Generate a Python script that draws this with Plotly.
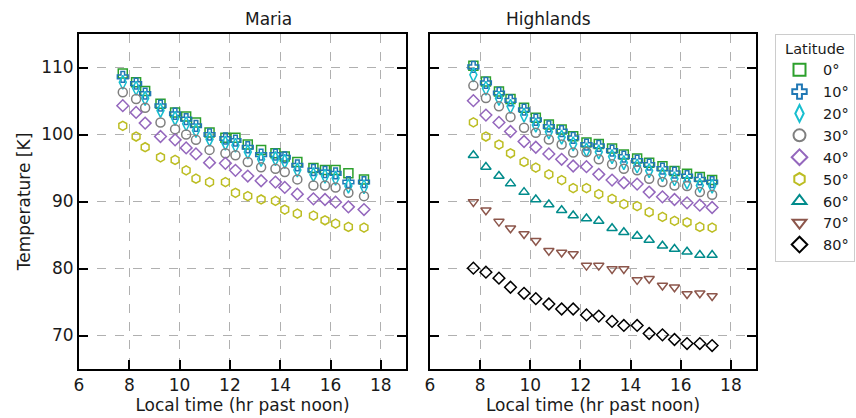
import plotly.graph_objects as go

# ---- data ----
maria_time = [7.74, 8.27, 8.63, 9.24, 9.82, 10.26, 10.65, 11.19, 11.82, 12.22,
              12.71, 13.24, 13.81, 14.18, 14.68, 15.32, 15.78, 16.2, 16.71, 17.33]
maria_0 = [109.1, 107.8, 106.5, 104.6, 103.3, 102.7, 101.8, 100.3, 99.5, 99.5,
           98.5, 97.7, 97.2, 96.7, 95.9, 95.0, 94.7, 94.7, 94.2, 93.3]
maria_10 = [108.6, 107.6, 106.1, 104.3, 103.1, 102.3, 101.3, 100.0, 99.4, 99.1,
            98.1, 97.0, 97.0, 96.6, 95.4, 94.7, 94.4, 94.2, 92.9, 92.9]
maria_20 = [107.8, 106.9, 105.4, 103.6, 102.4, 101.6, 100.6, 99.3, 98.7, 98.4,
            97.4, 96.3, 96.4, 96.0, 94.7, 94.0, 93.8, 93.5, 92.3, 92.2]
maria_30 = [106.3, 105.3, 104.0, 101.8, 100.8, 100.0, 99.2, 97.7, 97.2, 96.9,
            95.9, 95.1, 94.9, 94.4, 93.3, 92.4, 92.4, 92.1, 91.3, 90.8]
maria_40 = [104.3, 103.3, 101.7, 99.7, 99.2, 98.0, 97.1, 95.8, 95.7, 94.65,
            93.8, 93.1, 92.9, 92.1, 91.1, 90.4, 90.3, 89.9, 89.2, 88.8]
maria_50 = [101.3, 99.7, 98.1, 96.6, 96.2, 94.65, 93.4, 92.9, 92.9, 91.3,
            90.8, 90.3, 90.1, 88.8, 88.2, 87.9, 87.2, 86.7, 86.2, 86.1]

high_time = [7.73, 8.23, 8.75, 9.21, 9.75, 10.22, 10.74, 11.25, 11.71, 12.24,
             12.73, 13.26, 13.73, 14.26, 14.74, 15.27, 15.75, 16.25, 16.76, 17.25]
high_0 = [110.25, 107.9, 106.4, 105.3, 104.0, 102.5, 101.5, 100.75, 99.75, 98.8,
          98.6, 97.9, 97.0, 96.4, 95.8, 95.25, 94.55, 94.15, 93.65, 93.2]
high_10 = [110.1, 107.7, 106.2, 105.1, 103.7, 102.2, 101.2, 100.5, 99.5, 98.5,
           98.3, 97.6, 96.7, 96.1, 95.5, 94.9, 94.3, 93.8, 93.3, 92.9]
high_20 = [108.9, 106.9, 105.4, 104.2, 102.9, 101.4, 100.4, 99.6, 98.6, 97.7,
           97.4, 96.7, 95.8, 95.3, 94.6, 94.0, 93.4, 92.9, 92.4, 92.3]
high_30 = [107.3, 105.45, 104.2, 102.6, 101.0, 100.25, 99.25, 98.5, 97.3, 97.4,
           96.3, 95.55, 94.9, 94.65, 93.4, 92.9, 92.4, 92.3, 91.4, 91.0]
high_40 = [105.05, 102.9, 101.8, 100.45, 98.96, 98.1, 97.1, 96.3, 95.3, 95.2,
           94.05, 93.2, 92.8, 92.6, 91.4, 90.7, 90.3, 89.8, 89.45, 89.1]
high_50 = [101.8, 99.7, 98.5, 97.2, 95.9, 95.05, 94.05, 93.2, 92.0, 92.0,
           91.1, 90.4, 89.6, 89.3, 88.4, 87.7, 87.1, 86.9, 86.2, 86.1]
high_60 = [96.9, 95.14, 93.8, 92.67, 91.4, 90.3, 89.55, 88.7, 87.9, 87.47,
           87.1, 86.0, 85.4, 84.85, 84.25, 83.4, 82.9, 82.5, 82.0, 82.0]
high_70 = [89.94, 88.7, 87.0, 86.0, 85.15, 84.15, 82.66, 82.4, 82.17, 80.43,
           80.43, 79.94, 79.94, 78.3, 78.47, 77.46, 77.2, 76.2, 76.3, 75.9]
high_80 = [80.05, 79.45, 78.56, 77.2, 76.3, 75.5, 74.7, 73.96, 73.96, 73.07,
           72.9, 72.1, 71.5, 71.5, 70.3, 70.1, 69.4, 68.8, 68.8, 68.5]

latitudes = ["0°", "10°", "20°", "30°", "40°", "50°", "60°", "70°", "80°"]
maria_series = [maria_0, maria_10, maria_20, maria_30, maria_40, maria_50]
high_series = [high_0, high_10, high_20, high_30, high_40, high_50, high_60, high_70, high_80]
panel_titles = ["Maria", "Highlands"]
x_ticks = [6, 8, 10, 12, 14, 16, 18]
y_ticks = [70, 80, 90, 100, 110]

# ---- styles ----
colors = ["#2ca02c", "#1f77b4", "#17becf", "#7f7f7f", "#9467bd",
          "#bcbd22", "#008b8b", "#8c564b", "#000000"]
symbols = ["square-open", "cross-open", "diamond-tall-open", "circle-open",
           "diamond-open", "hexagon-open", "triangle-up-open",
           "triangle-down-open", "diamond-open"]
sizes = [9, 9, 10, 9, 9, 9, 9, 9, 9]

FONT = "DejaVu Sans"
FS = 17
TXT = "#1a1a1a"
fig = go.Figure()

for i, ys in enumerate(maria_series):
    fig.add_trace(go.Scatter(
        x=maria_time, y=ys, mode="markers", name=latitudes[i],
        legendgroup=latitudes[i], showlegend=False,
        marker=dict(symbol=symbols[i], size=sizes[i], color=colors[i],
                    line=dict(width=1.5, color=colors[i])),
        xaxis="x", yaxis="y"))

for i, ys in enumerate(high_series):
    fig.add_trace(go.Scatter(
        x=high_time, y=ys, mode="markers", name=latitudes[i],
        legendgroup=latitudes[i], showlegend=True,
        marker=dict(symbol=symbols[i], size=sizes[i], color=colors[i],
                    line=dict(width=1.5, color=colors[i])),
        xaxis="x2", yaxis="y2"))

W, H = 856, 418
ml, mr, mt, mb = 79, 100, 34, 49
pw = W - ml - mr
d1 = (406 - ml) / pw
d2 = (430 - ml) / pw

axis_common = dict(
    showline=True, linecolor="black", linewidth=2,
    ticks="inside", ticklen=9, tickwidth=2, tickcolor="black",
    showgrid=True, gridcolor="#b0b0b0", gridwidth=1, griddash="dash",
    zeroline=False,
    tickfont=dict(family=FONT, size=FS, color=TXT),
)

xa = dict(axis_common, range=[6, 19], tickvals=x_ticks, mirror=True,
          title=dict(text="Local time (hr past noon)",
                     font=dict(family=FONT, size=FS, color=TXT), standoff=2))
ya = dict(axis_common, range=[65, 115], tickvals=y_ticks, mirror="ticks")

fig.update_layout(
    width=W, height=H,
    margin=dict(l=ml, r=mr, t=mt, b=mb, autoexpand=False),
    paper_bgcolor="white", plot_bgcolor="white",
    font=dict(family=FONT, size=FS, color=TXT),
    xaxis=dict(xa, domain=[0, d1], anchor="y"),
    xaxis2=dict(xa, domain=[d2, 1], anchor="y2"),
    yaxis=dict(ya, anchor="x", domain=[0, 1],
               title=dict(text="Temperature [K]",
                          font=dict(family=FONT, size=FS, color=TXT), standoff=6)),
    yaxis2=dict(ya, anchor="x2", domain=[0, 1], matches="y", showticklabels=False),
    legend=dict(
        x=(775 - ml) / pw, xanchor="left", y=1.0, yanchor="top",
        bgcolor="white", bordercolor="#cccccc", borderwidth=1,
        font=dict(family=FONT, size=14.5, color=TXT),
        title=dict(text="Latitude", side="top center",
                   font=dict(family=FONT, size=14.5, color=TXT)),
        itemsizing="constant", tracegroupgap=0, itemwidth=37,
    ),
    annotations=[
        dict(text=panel_titles[0], x=d1 / 2, xref="paper", y=1.0, yref="paper",
             yanchor="bottom", yshift=3, showarrow=False,
             font=dict(family=FONT, size=FS, color=TXT)),
        dict(text=panel_titles[1], x=(d2 + 1) / 2, xref="paper", y=1.0, yref="paper",
             yanchor="bottom", yshift=3, showarrow=False,
             font=dict(family=FONT, size=FS, color=TXT)),
    ],
)

fig.write_html("out.html")
